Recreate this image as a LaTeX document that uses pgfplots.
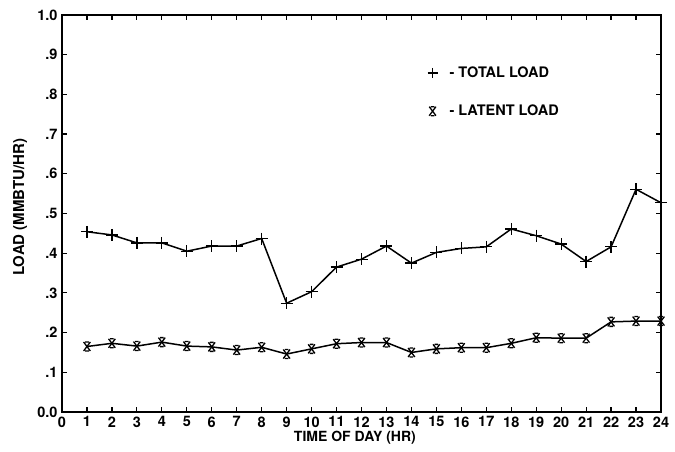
\documentclass[border=0pt]{standalone}
\usepackage{pgfplots}
\pgfplotsset{compat=1.18}
\usepackage{fontspec}
\setmainfont{TeX Gyre Heros}
\pgfdeclareplotmark{xbar}{%
  \pgfpathmoveto{\pgfqpoint{-0.75\pgfplotmarksize}{\pgfplotmarksize}}%
  \pgfpathlineto{\pgfqpoint{0.75\pgfplotmarksize}{-\pgfplotmarksize}}%
  \pgfpathmoveto{\pgfqpoint{0.75\pgfplotmarksize}{\pgfplotmarksize}}%
  \pgfpathlineto{\pgfqpoint{-0.75\pgfplotmarksize}{-\pgfplotmarksize}}%
  \pgfpathmoveto{\pgfqpoint{-0.4\pgfplotmarksize}{\pgfplotmarksize}}%
  \pgfpathlineto{\pgfqpoint{0.4\pgfplotmarksize}{\pgfplotmarksize}}%
  \pgfpathmoveto{\pgfqpoint{-0.4\pgfplotmarksize}{-\pgfplotmarksize}}%
  \pgfpathlineto{\pgfqpoint{0.4\pgfplotmarksize}{-\pgfplotmarksize}}%
  \pgfusepathqstroke}
\pgfplotstableread{
x total latent
1 0.454 0.165
2 0.446 0.173
3 0.426 0.166
4 0.426 0.176
5 0.405 0.166
6 0.418 0.164
7 0.418 0.156
8 0.437 0.163
9 0.274 0.146
10 0.303 0.159
11 0.365 0.172
12 0.385 0.175
13 0.418 0.175
14 0.375 0.150
15 0.402 0.159
16 0.412 0.162
17 0.416 0.162
18 0.461 0.173
19 0.444 0.187
20 0.423 0.186
21 0.379 0.186
22 0.416 0.227
23 0.561 0.229
24 0.527 0.229
}\loadtable
\begin{document}
\begin{tikzpicture}
\begin{axis}[
  width=599pt, height=397pt, scale only axis,
  xmin=0, xmax=24, ymin=0, ymax=1,
  xtick={0,1,...,24},
  ytick={0,0.1,0.2,0.3,0.4,0.5,0.6,0.7,0.8,0.9,1.0},
  yticklabels={0.0,.1,.2,.3,.4,.5,.6,.7,.8,.9,1.0},
  /pgf/number format/assume math mode=true,
  tick align=inside, major tick length=5pt,
  axis line style={line width=1.6pt},
  every tick/.style={line width=1.2pt, black},
  ticklabel style={font=\fontsize{14.5}{16}\selectfont\bfseries},
  xticklabel style={yshift=-1pt},
  yticklabel style={xshift=-1pt},
  xlabel={TIME OF DAY (HR)},
  ylabel={LOAD (MMBTU/HR)},
  every axis x label/.style={at={(axis description cs:0.489,-0.066)}, anchor=center, font=\fontsize{14}{16}\selectfont\bfseries},
  every axis y label/.style={at={(axis description cs:-0.0701,0.516)}, rotate=90, anchor=center, font=\fontsize{15}{17}\selectfont\bfseries},
  legend style={draw=none, fill=none, at={(0.605,0.88)}, anchor=north west, font=\fontsize{14.5}{16}\selectfont\bfseries, row sep=22pt, column sep=10pt},
  legend cell align=left,
]
\addplot[black, line width=1.5pt, mark=+, mark size=6pt, mark options={line width=1.3pt}, forget plot] table[x=x, y=total] {\loadtable};
\addplot[black, line width=1.5pt, mark=xbar, mark size=4.5pt, mark options={line width=1.3pt}, forget plot] table[x=x, y=latent] {\loadtable};
\addlegendimage{only marks, black, mark=+, mark size=5pt, mark options={line width=1.3pt}}
\addlegendentry{- TOTAL LOAD}
\addlegendimage{only marks, black, mark=xbar, mark size=4.5pt, mark options={line width=1.3pt}}
\addlegendentry{- LATENT LOAD}
\end{axis}
\pgfresetboundingbox
\path (current axis.south west) ++(-62pt,-39pt) coordinate (bbA);
\path (current axis.north east) ++(14pt,15pt) coordinate (bbB);
\useasboundingbox (bbA) rectangle (bbB);
\end{tikzpicture}
\end{document}
